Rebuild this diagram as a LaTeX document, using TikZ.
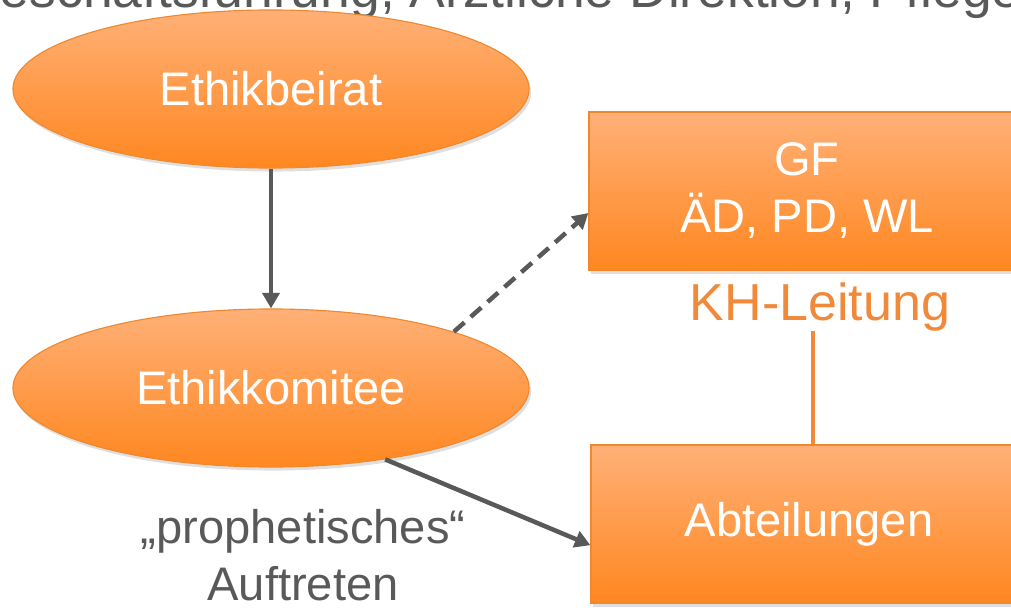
\documentclass[tikz,border=0pt]{standalone}
\usepackage{fontspec}
\setmainfont{Liberation Sans}
\usepackage{tikz}
\usetikzlibrary{arrows.meta, positioning, shapes.geometric, shadows, calc}
\definecolor{boxtop}{HTML}{FFB077}
\definecolor{boxbottom}{HTML}{FF8720}
\definecolor{boxline}{HTML}{F0892E}
\definecolor{textgray}{HTML}{595959}
\definecolor{khorange}{HTML}{F08A3A}

\begin{document}
\begin{tikzpicture}[
    x=0.025cm, y=-0.025cm,
    orangefill/.style = {top color=boxtop, bottom color=boxbottom, draw=boxline,
                  line width=0.8pt, text=white, inner sep=0pt, align=center,
                  font=\fontsize{33.5}{40.5}\selectfont,
                  drop shadow={shadow xshift=1.5pt, shadow yshift=-2.5pt, opacity=0.25}},
    oval/.style = {orangefill, ellipse, minimum width=12.9cm, minimum height=3.95cm},
    box/.style = {orangefill, rectangle, minimum width=10.9cm, minimum height=3.95cm},
    label/.style = {text=textgray, inner sep=0pt, align=center,
                  font=\fontsize{33.5}{40.5}\selectfont},
    arrow/.style = {-{Triangle[length=11pt,width=12pt]}, line width=3.2pt, color=textgray},
    link/.style = {line width=2.8pt, color=khorange}
  ]
  \useasboundingbox (0,0) rectangle (1011,610);
  \clip (0,0) rectangle (1011,610);

  \node[label, anchor=base west, font=\fontsize{38}{45}\selectfont] (title) at (-42,8)
    {Geschäftsführung, Ärztliche Direktion, Pflegedirektion};

  \node[oval] (ebr) at (271,89)  {Ethikbeirat};
  \node[oval] (ekt) at (271,388) {Ethikkomitee};
  \node[box]  (gf)  at (807,191) {GF\\ÄD, PD, WL};
  \node[box]  (abt) at (809,524) {Abteilungen};
  \node[text=khorange, inner sep=0pt, anchor=base, font=\fontsize{37}{44}\selectfont]
    (kh) at (820,320) {KH-Leitung};
  \node[label] (proph) at (303,555) {„prophetisches“\\Auftreten};

  \draw[arrow] (ebr.south) -- (ekt.north);
  \draw[arrow, dash pattern=on 10pt off 6pt] (ekt.north east) -- ([yshift=-0.55cm]gf.west);
  \draw[arrow] (ekt.-32) -- ([yshift=-0.53cm]abt.west);
  \draw[link] ([xshift=-0.18cm]kh.south) -- ([xshift=-0.18cm]kh.south |- abt.north);
\end{tikzpicture}
\end{document}
